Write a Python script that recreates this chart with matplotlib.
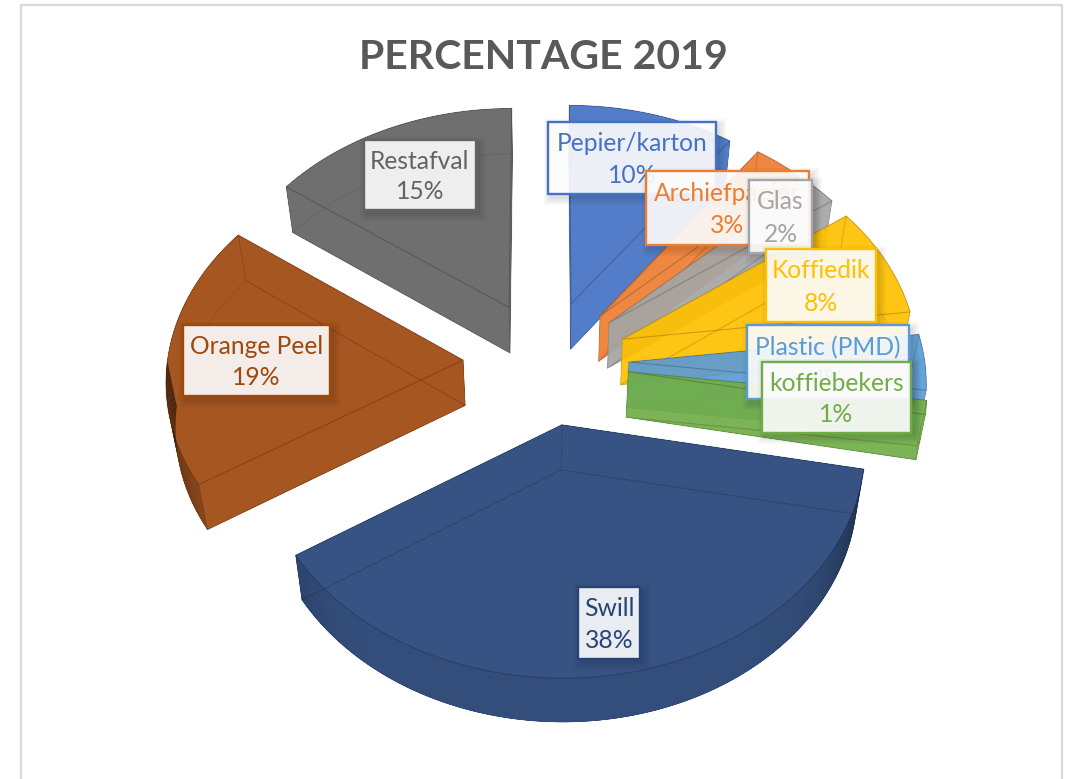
import numpy as np
import matplotlib

matplotlib.use("Agg")
import matplotlib.pyplot as plt
from matplotlib.patches import PathPatch, Polygon, Rectangle
from matplotlib.path import Path

plt.rcParams["font.family"] = ["Lato", "DejaVu Sans"]

# data
categories = ["Pepier/karton", "Archiefpapier", "Glas", "Koffiedik", "Plastic (PMD)",
              "koffiebekers", "Swill", "Orange Peel", "Restafval"]
percentages = [10, 3, 2, 8, 4, 1, 38, 19, 15]
colors = ["#4472C4", "#ED7D31", "#A5A5A5", "#FFC000", "#5B9BD5",
          "#70AD47", "#264478", "#9E480E", "#636363"]

# label boxes in pixels: left, top, right, bottom
label_boxes = [(548, 122, 716, 194), (646, 171, 809, 245), (749, 180, 812, 253),
               (766, 249, 876, 322), (747, 325, 909, 399), (762, 362, 911, 433),
               (578, 587, 640, 659), (183, 325, 330, 396), (364, 140, 476, 210)]

# projection of the tilted pie
CX, CY = 546, 362
SCALE_X, SCALE_Y = 296, 223
PERSPECTIVE = 0.079
EXPLODE = 0.28
BOTTOM_SHRINK = 0.975


def project(X, Y, bottom=False):
    s = 1 / (1 - PERSPECTIVE * Y)
    x = SCALE_X * X * s
    y = SCALE_Y * Y * s
    if bottom:
        return CX + x * BOTTOM_SHRINK, CY + y * BOTTOM_SHRINK + 45.5 + 5 * Y
    return CX + x, CY + y


def ccw(points):
    x, y = points[:, 0], points[:, 1]
    area = np.sum(x * np.roll(y, -1) - np.roll(x, -1) * y)
    return points if area > 0 else points[::-1]


def closed_path(polygons):
    verts, codes = [], []
    for p in polygons:
        p = ccw(p)
        verts.extend(p.tolist() + [p[0].tolist()])
        codes.extend([Path.MOVETO] + [Path.LINETO] * (len(p) - 1) + [Path.CLOSEPOLY])
    return Path(verts, codes)


def draw_slice(ax, start, stop, color, z):
    mid = np.radians((start + stop) / 2)
    ox, oy = EXPLODE * np.sin(mid), -EXPLODE * np.cos(mid)
    theta = np.radians(np.linspace(start, stop, max(int(stop - start), 4) + 1))
    X = np.r_[ox, ox + np.sin(theta)]
    Y = np.r_[oy, oy - np.cos(theta)]
    top = np.column_stack(project(X, Y))
    bot = np.column_stack(project(X, Y, bottom=True))

    # top, bottom and sides filled as one shape so the alpha does not add up
    n = len(X)
    sides = [np.array([top[i], top[(i + 1) % n], bot[(i + 1) % n], bot[i]]) for i in range(n)]
    ax.add_patch(PathPatch(closed_path([top, bot] + sides), fc=color, ec="none", alpha=0.92, zorder=z))

    # shading on the rim, darker where it turns away
    for i in range(1, n - 1):
        t = (theta[i - 1] + theta[i]) / 2
        if np.cos(t) < 0 and np.degrees(t) > 102:
            shade = 0.05 + 0.5 * abs(np.sin(t)) ** 8
            ax.add_patch(Polygon(sides[i], fc="black", ec="none", alpha=shade, zorder=z + 0.1))

    # edges, the hidden ones show faintly through the slice
    ax.add_patch(Polygon(bot[[1, 0, n - 1]], closed=False, fill=False, ec="black", lw=0.8, alpha=0.16, zorder=z + 0.2))
    ax.plot(bot[1:, 0], bot[1:, 1], color="black", lw=0.7, alpha=0.07, zorder=z + 0.2)
    ax.add_patch(Polygon(top, fill=False, ec="black", lw=0.8, alpha=0.2, zorder=z + 0.3))
    for i in (0, 1, n - 1):
        ax.plot([top[i, 0], bot[i, 0]], [top[i, 1], bot[i, 1]], color="black", lw=0.7, alpha=0.14, zorder=z + 0.3)


def draw_label(ax, box, name, pct, color, z):
    left, upper, right, lower = box
    w, h = right - left, lower - upper
    # soft shadow
    for grow in (7, 5, 3, 1):
        ax.add_patch(Rectangle((left + 3 - grow, upper + 4 - grow), w + 2 * grow, h + 2 * grow,
                               fc="black", ec="none", alpha=0.03, zorder=z))
    ax.add_patch(Rectangle((left, upper), w, h, fc="white", ec="none", alpha=0.9, zorder=z + 0.1))
    ax.add_patch(Rectangle((left, upper), w, h, fill=False, ec=color, lw=1.7, zorder=z + 0.2))
    cx = (left + right) / 2
    ax.text(cx, upper + h * 0.30, name, color=color, fontsize=17.7, ha="center", va="center", zorder=z + 0.3)
    ax.text(cx, upper + h * 0.74, f"{pct}%", color=color, fontsize=17.7, ha="center", va="center", zorder=z + 0.3)


fig = plt.figure(figsize=(10.66, 7.79), dpi=100)
ax = fig.add_axes([0, 0, 1, 1])
ax.set_xlim(0, 1066)
ax.set_ylim(779, 0)
ax.axis("off")

# chart frame, open at the bottom because the screenshot cuts it off
ax.plot([21, 21, 1062, 1062], [779, 5, 5, 779], color="#D9D9D9", lw=1.6, zorder=1)

ax.text(543, 57, "PERCENTAGE 2019", color="#595959", fontsize=29.5, fontweight="bold",
        ha="center", va="center", zorder=2)

angles = np.r_[0, np.cumsum(percentages)] * 3.6
for i, color in enumerate(colors):
    draw_slice(ax, angles[i], angles[i + 1], color, 3 + i)

for i, (name, pct, color) in enumerate(zip(categories, percentages, colors)):
    draw_label(ax, label_boxes[i], name, pct, color, 20 + i)

fig.savefig("out.png", dpi=100)
